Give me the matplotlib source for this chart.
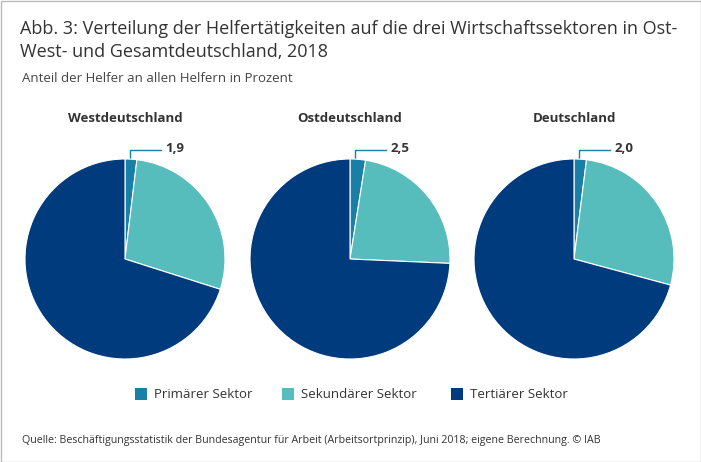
import matplotlib
matplotlib.use('Agg')
import matplotlib.pyplot as plt
from matplotlib.patches import Rectangle

plt.rcParams['font.family'] = ['Open Sans', 'DejaVu Sans']

regions = ['Westdeutschland', 'Ostdeutschland', 'Deutschland']
sectors = ['Primärer Sektor', 'Sekundärer Sektor', 'Tertiärer Sektor']
primary = [1.9, 2.5, 2.0]
secondary = [28.0, 23.2, 27.2]
tertiary = [70.1, 74.3, 70.8]
colors = ['#1a7fa6', '#56bcbc', '#003c7d']
text_col = '#333333'
W, H = 701, 462

fig = plt.figure(figsize=(W / 100, H / 100), dpi=100)
bg = fig.add_axes([0, 0, 1, 1])
bg.set_xlim(0, W)
bg.set_ylim(H, 0)
bg.axis('off')
bg.add_patch(Rectangle((0.5, 0.5), W - 1, H - 1, fill=False, ec='#bbbbbb', lw=1))

bg.text(20, 29, 'Abb. 3: Verteilung der Helfertätigkeiten auf die drei Wirtschaftssektoren in Ost-', fontsize=13, color=text_col, va='center')
bg.text(20, 52, 'West- und Gesamtdeutschland, 2018', fontsize=13, color=text_col, va='center')
bg.text(22, 78, 'Anteil der Helfer an allen Helfern in Prozent', fontsize=9.5, color='#444444', va='center')

centers = [125, 350, 574]
radius = 100
cy = 259
for i, name in enumerate(regions):
    vals = [primary[i], secondary[i], tertiary[i]]
    cx = centers[i]
    ax = fig.add_axes([(cx - radius) / W, 1 - (cy + radius) / H, 2 * radius / W, 2 * radius / H])
    ax.pie(vals, colors=colors, startangle=90, counterclock=False, radius=1,
           wedgeprops={'ec': 'white', 'lw': 0.8})
    ax.set_xlim(-1, 1)
    ax.set_ylim(-1, 1)
    bg.text(cx, 118, name, fontsize=9.5, fontweight='bold', color=text_col, ha='center', va='center')
    # leader line for the primary sector
    bg.plot([cx + 5, cx + 5, cx + 36], [160, 150, 150], color=colors[0], lw=1)
    bg.text(cx + 50, 149, str(primary[i]).replace('.', ','), fontsize=9.5, fontweight='bold', color=text_col, ha='center', va='center')
    bg.text(cx + 62, 225, str(secondary[i]).replace('.', ','), fontsize=9.5, fontweight='bold', color='white', ha='center', va='center')
    bg.text(cx - 66, 299, str(tertiary[i]).replace('.', ','), fontsize=9.5, fontweight='bold', color='white', ha='center', va='center')

for x, lab, c in zip([135, 282, 451], sectors, colors):
    bg.add_patch(Rectangle((x, 388), 12, 12, color=c, lw=0))
    bg.text(x + 19, 394, lab, fontsize=9.5, color=text_col, va='center')

bg.text(22, 440, 'Quelle: Beschäftigungsstatistik der Bundesagentur für Arbeit (Arbeitsortprinzip), Juni 2018; eigene Berechnung. © IAB', fontsize=7.7, color=text_col, va='center')

fig.savefig('out.png', dpi=100)
